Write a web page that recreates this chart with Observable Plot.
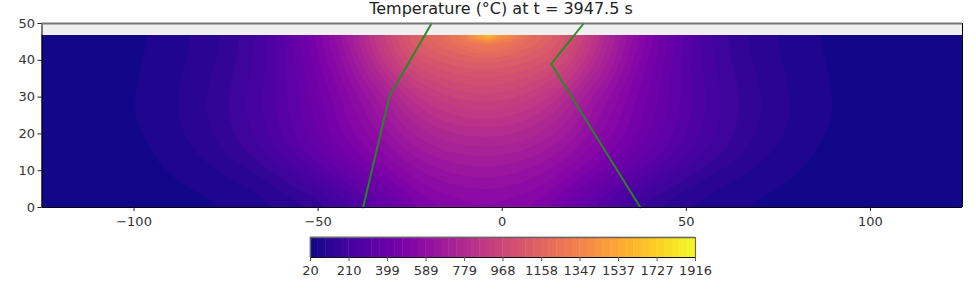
<!DOCTYPE html>
<html><head><meta charset="utf-8">
<script src="https://cdn.jsdelivr.net/npm/d3@7"></script>
<script src="https://cdn.jsdelivr.net/npm/@observablehq/plot@0.6"></script>
<style>
html,body{margin:0;padding:0;background:#fff;width:976px;height:293px;overflow:hidden}
#chart{position:relative;width:976px;height:293px}
#chart svg{position:absolute;left:0;display:block;background:transparent}
#title{position:absolute;left:0;width:1002px;top:0px;text-align:center;font:16px "DejaVu Sans";color:#222;line-height:18px}
</style></head><body>
<div id="chart"><div id="title">Temperature (°C) at t = 3947.5 s</div></div>
<script>
const xs=[-125,-105,-95,-85,-75,-65,-55,-45,-35,-25,-20,-15,-10,-5,-3.5,0,5,10,15,25,35,45,55,65,75,85,95,125];
const ys=[0,5,10,15,20,25,30,35,40,43,45,47.2];
const temps=[
[21,21,26,38,56,78,102,172,310,440,480,510,525,530,530,525,510,480,440,310,172,102,78,56,38,26,21,21],
[21,25,38,59,76,105,170,265,380,505,545,570,585,590,590,585,570,545,505,380,265,170,105,76,59,38,25,21],
[21,30,50,70,102,150,245,355,465,570,605,630,645,650,650,645,630,605,570,465,355,245,150,102,70,50,30,21],
[21,34,56,88,138,212,312,420,530,635,672,700,715,720,720,715,700,672,635,530,420,312,212,138,88,56,34,21],
[21,40,65,100,155,232,340,455,570,700,740,770,785,790,790,785,770,740,700,570,455,340,232,155,100,65,40,21],
[21,45,70,108,165,246,358,478,610,760,810,845,865,870,870,865,845,810,760,610,478,358,246,165,108,70,45,21],
[21,45,70,108,165,248,362,490,640,820,880,920,945,950,950,945,920,880,820,640,490,362,248,165,108,70,45,21],
[21,43,67,103,158,240,370,520,720,930,980,1015,1035,1040,1040,1035,1015,980,930,720,520,370,240,158,103,67,43,21],
[21,41,64,98,148,232,380,555,800,1020,1070,1095,1115,1120,1120,1115,1095,1070,1020,800,555,380,232,148,98,64,41,21],
[21,40,62,95,143,228,390,575,830,1070,1120,1155,1185,1200,1205,1190,1155,1120,1070,830,575,390,228,143,95,62,40,21],
[21,39,61,93,140,225,395,590,840,1100,1165,1215,1270,1320,1350,1300,1225,1165,1100,840,590,395,225,140,93,61,39,21],
[21,38,60,92,140,225,400,610,860,1130,1180,1230,1300,1650,1800,1480,1270,1200,1150,860,610,400,225,140,92,60,38,21]
];
const leftLineX=[-37.8,-30.6,-19.2], leftLineY=[0,30.4,50];
const rightLineX=[37.5,13.3,22.1], rightLineY=[0,39,50];
const xTicks=[-100,-50,0,50,100], yTicks=[0,10,20,30,40,50];
const colorTicks=[20,210,399,589,779,968,1158,1347,1537,1727,1916];
const levelCount=50, tMin=20, tMax=1916, solidTop=46.74, hotFrom=1200, fieldTop=47.2;

const levels=d3.range(levelCount+1).map(i=>tMin+i*(tMax-tMin)/levelCount);
const step=(tMax-tMin)/levelCount;
const colorOpt={type:"linear",scheme:"plasma",domain:[tMin-step/2,tMax-step/2]};
const samples=ys.flatMap((y,j)=>xs.map((x,i)=>({x,y,t:temps[j][i]})));
const font={fontFamily:"DejaVu Sans",fontSize:"13px",background:"transparent",overflow:"visible"};
const ink="#333";
const field={x:"x",y:"y",value:"t",fill:"value",interpolate:"barycentric",pixelSize:1,x1:-125,x2:125,y1:0,y2:fieldTop};

const main=Plot.plot({
  width:976,height:232,marginTop:23,marginBottom:25,marginLeft:41.5,marginRight:14,
  style:font,
  x:{domain:[-125,125],label:null},
  y:{domain:[0,50],label:null},
  color:colorOpt,
  marks:[
    Plot.rect([tMin],{x1:-125,x2:125,y1:0,y2:fieldTop,fill:d=>d}),
    Plot.contour(samples,{...field,thresholds:levels,blur:9}),
    Plot.contour(samples,{...field,thresholds:levels.filter(d=>d>=hotFrom),blur:1.5}),
    Plot.rect([0],{x1:-125,x2:125,y1:solidTop,y2:50,fill:"#f0f0f0"}),
    Plot.line(leftLineX.map((x,i)=>({x,y:leftLineY[i]})),{x:"x",y:"y",stroke:"#228b22",strokeWidth:2,strokeOpacity:.95}),
    Plot.line(rightLineX.map((x,i)=>({x,y:rightLineY[i]})),{x:"x",y:"y",stroke:"#228b22",strokeWidth:2,strokeOpacity:.95}),
    Plot.ruleX([-125,125],{stroke:"#000",strokeWidth:1}),
    Plot.ruleY([0],{stroke:"#000",strokeWidth:1}),
    Plot.ruleY([50],{stroke:"#777",strokeWidth:2}),
    Plot.axisX({ticks:xTicks,tickSize:4,tickPadding:5,label:null,color:ink,stroke:"#222"}),
    Plot.axisY({ticks:yTicks,tickSize:4,tickPadding:3,label:null,color:ink,stroke:"#222"})
  ]
});
main.style.top="0px";
document.getElementById("chart").appendChild(main);

const bar=Plot.plot({
  width:976,height:60,marginTop:7,marginBottom:33,marginLeft:310,marginRight:281,
  style:font,
  x:{domain:[tMin,tMax],label:null},
  y:{axis:null,domain:[0,1]},
  color:colorOpt,
  marks:[
    Plot.rect(levels.slice(0,-1),{x1:d=>d,x2:d=>d+step,y1:0,y2:1,fill:d=>d,inset:-0.2}),
    Plot.ruleY([0],{stroke:"#111",strokeWidth:1}),
    Plot.ruleY([1],{stroke:"#666",strokeWidth:1.5}),
    Plot.ruleX([tMin,tMax],{stroke:"#666",strokeWidth:1.2}),
    Plot.axisX({ticks:colorTicks,tickFormat:d=>String(d),tickSize:4,tickPadding:4,label:null,color:ink,stroke:"#555"})
  ]
});
bar.style.top="230px";
document.getElementById("chart").appendChild(bar);
</script></body></html>
